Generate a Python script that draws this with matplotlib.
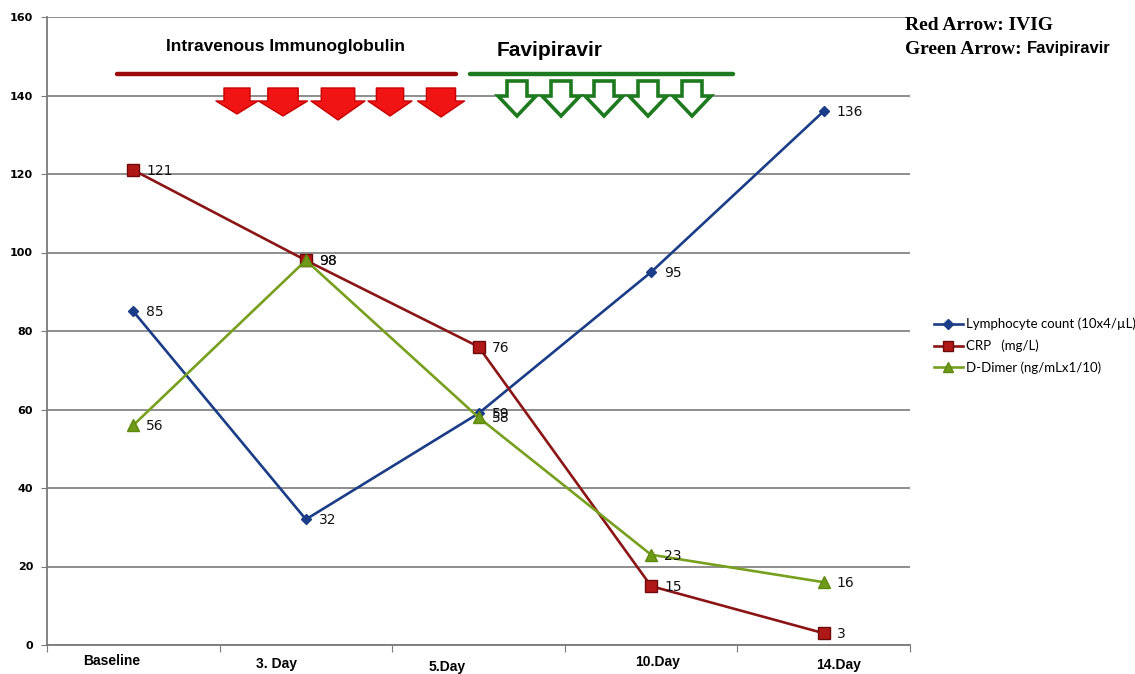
import matplotlib
matplotlib.use("Agg")
import matplotlib.pyplot as plt
from matplotlib.patches import Polygon
from matplotlib.lines import Line2D

# ---- data -------------------------------------------------------------
days = ["Baseline", "3. Day", "5.Day", "10.Day", "14.Day"]
lymphocyte = [85, 32, 59, 95, 136]
crp = [121, 98, 76, 15, 3]
d_dimer = [56, 98, 58, 23, 16]
series_names = ["Lymphocyte count (10x4/\u00b5L)", "CRP   (mg/L)", "D-Dimer (ng/mLx1/10)"]
y_ticks = [0, 20, 40, 60, 80, 100, 120, 140, 160]

# ---- figure -----------------------------------------------------------
W, H = 1135, 674
fig = plt.figure(figsize=(W / 100, H / 100), dpi=100)
fig.patch.set_facecolor("white")


def fx(x):
    return x / W


def fy(y):
    return 1 - y / H


ax = fig.add_axes([fx(47), fy(645), fx(910) - fx(47), fy(17) - fy(645)])
x = list(range(len(days)))

styles = [
    dict(color="#1B3C86", marker="D", markersize=5.5, markerfacecolor="#1B3C86",
         markeredgecolor="#1B3C86"),
    dict(color="#8B1515", marker="s", markersize=8.5, markerfacecolor="#B01818",
         markeredgecolor="#6E0A0A"),
    dict(color="#76A01E", marker="^", markersize=9, markerfacecolor="#6E9A18",
         markeredgecolor="#5E8A10"),
]
handles = []
for vals, st, name in zip([lymphocyte, crp, d_dimer], styles, series_names):
    h, = ax.plot(x, vals, linewidth=1.9, label=name, zorder=3, **st)
    handles.append(h)
    for xi, v in zip(x, vals):
        ax.annotate(str(v), (xi, v), xytext=(13, -1), textcoords="offset pixels",
                    ha="left", va="center", fontsize=10, color="#111111",
                    family="DejaVu Sans", zorder=4)

ax.set_xlim(-0.5, len(days) - 0.5)
ax.set_ylim(0, 160)

# axes, grid, ticks
for side in ["top", "right"]:
    ax.spines[side].set_visible(False)
for side in ["left", "bottom"]:
    ax.spines[side].set_color("#7a7a7a")
    ax.spines[side].set_linewidth(1.3)
ax.set_yticks(y_ticks)
ax.set_yticklabels([str(t) for t in y_ticks], fontsize=8, fontweight="bold",
                   family="DejaVu Sans")
ax.yaxis.grid(True, color="#6f6f6f", linewidth=1.1)
ax.set_axisbelow(True)
ax.tick_params(axis="y", length=4, color="#7a7a7a", pad=6)
ax.set_xticks([i - 0.5 for i in range(len(days) + 1)])
ax.set_xticklabels([])
ax.tick_params(axis="x", length=5, color="#7a7a7a", direction="out")

# category labels under each band
label_dx = [-22, -29, -31, 6, 15]
label_dy = [-16, -19, -22, -17, -20]
for xi, name, dx, dy in zip(x, days, label_dx, label_dy):
    ax.annotate(name, (xi, 0), xycoords=("data", "axes fraction"),
                xytext=(dx, dy), textcoords="offset pixels",
                ha="center", va="center", fontsize=10, fontweight="bold",
                family="Liberation Sans", annotation_clip=False)

# ---- treatment annotations -------------------------------------------
fig.text(fx(285), fy(46), "Intravenous Immunoglobulin", ha="center", va="center",
         fontsize=12.5, fontweight="bold", family="Liberation Sans")
fig.text(fx(550), fy(50), "Favipiravir", ha="center", va="center",
         fontsize=15, fontweight="bold", family="Liberation Sans")

fig.add_artist(Line2D([fx(117), fx(456)], [fy(74), fy(74)], color="#9E0A0A",
                      linewidth=3.2, solid_capstyle="round"))
fig.add_artist(Line2D([fx(470), fx(733)], [fy(74), fy(74)], color="#1E7A1E",
                      linewidth=3.2, solid_capstyle="round"))


def down_arrow(cx, top, neck, tip, shaft_w, head_w):
    pts = [(cx - shaft_w / 2, top), (cx + shaft_w / 2, top),
           (cx + shaft_w / 2, neck), (cx + head_w / 2, neck),
           (cx, tip), (cx - head_w / 2, neck), (cx - shaft_w / 2, neck)]
    return [(fx(px), fy(py)) for px, py in pts]


red_cx = [237, 283, 338, 390, 441]
red_head = [42, 49, 54, 44, 47]
red_tip = [114, 116, 120, 116, 117]
for cx, hw, tp in zip(red_cx, red_head, red_tip):
    fig.add_artist(Polygon(down_arrow(cx, 88, 101, tp, hw * 0.62, hw),
                           closed=True, facecolor="#F01414", edgecolor="#C80000",
                           linewidth=1.0, joinstyle="round",
                           transform=fig.transFigure))

green_cx = [517, 561, 604, 648, 692]
for cx in green_cx:
    fig.add_artist(Polygon(down_arrow(cx, 81, 96, 116, 20, 38),
                           closed=True, facecolor="white", edgecolor="#1E7A1E",
                           linewidth=2.6, joinstyle="miter",
                           transform=fig.transFigure))

# key for the arrows
fig.text(fx(905), fy(26), "Red Arrow: IVIG", ha="left", va="center",
         fontsize=14, fontweight="bold", family="Liberation Serif")
t = fig.text(fx(905), fy(49), "Green Arrow: ", ha="left", va="center",
             fontsize=14, fontweight="bold", family="Liberation Serif")
fig.canvas.draw()
bb = t.get_window_extent()
fig.text(bb.x1 / W, fy(49), "Favipiravir", ha="left", va="center",
         fontsize=12, fontweight="bold", family="Liberation Sans")

# ---- legend -----------------------------------------------------------
fig.legend(handles=handles, loc="center left",
           bbox_to_anchor=(fx(922), fy(346)), frameon=False,
           prop=dict(family="Lato", size=9.5), handlelength=2.2,
           handletextpad=0.2, labelspacing=0.7, markerscale=0.85)

fig.savefig("out.png", dpi=100, facecolor="white")
